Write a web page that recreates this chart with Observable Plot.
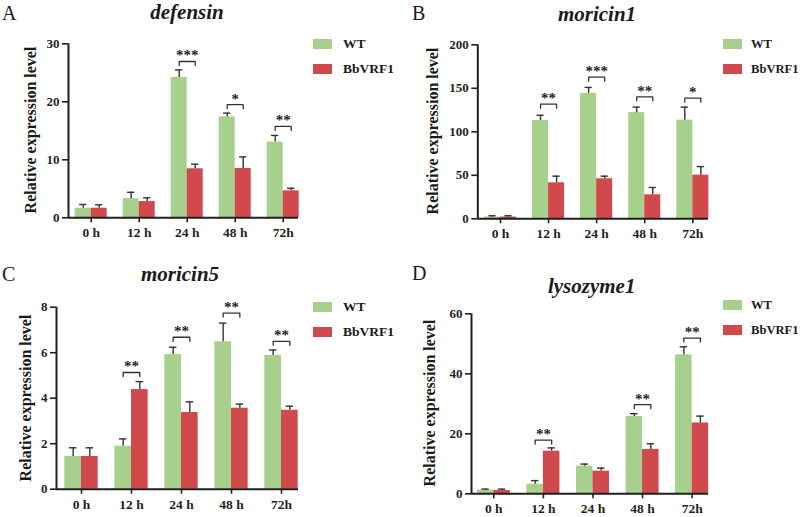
<!DOCTYPE html>
<html>
<head>
<meta charset="utf-8">
<script src="https://cdn.jsdelivr.net/npm/d3@7"></script>
<script src="https://cdn.jsdelivr.net/npm/@observablehq/plot@0.6"></script>
<style>
  html, body { margin: 0; padding: 0; background: #fff; }
  #root { position: relative; width: 800px; height: 517px; overflow: hidden; background: #fff; font-family: "Liberation Serif", "Times New Roman", serif; color: #1a1a1a; }
  .abs { position: absolute; white-space: nowrap; line-height: 1; }
  .panel { position: absolute; }
</style>
</head>
<body>
<div id="root"></div>
<script>
// ---------- data ----------
const times = ["0 h", "12 h", "24 h", "48 h", "72h"];
const groups = ["WT", "BbVRF1"];
const groupColors = ["#a8d08d", "#d04a4d"];

const defensinWT = [1.65, 3.3, 24.2, 17.4, 13.05];
const defensinWTErr = [0.65, 1.1, 1.3, 0.65, 1.15];
const defensinKO = [1.65, 2.8, 8.45, 8.5, 4.65];
const defensinKOErr = [0.6, 0.65, 0.8, 2.0, 0.45];
const defensinSig = ["", "", "***", "*", "**"];
const defensinSigY = [null, null, 26.95, 19.5, 15.75];

const moricin1WT = [2, 113, 144, 122, 113.4];
const moricin1WTErr = [1.5, 6, 7, 6.4, 15];
const moricin1KO = [2, 41.4, 46, 27.6, 50.2];
const moricin1KOErr = [1.5, 7.6, 3, 8.4, 9.8];
const moricin1Sig = ["", "**", "***", "**", "*"];
const moricin1SigY = [null, 131.8, 162.8, 140.2, 138.7];

const moricin5WT = [1.44, 1.89, 5.92, 6.48, 5.88];
const moricin5WTErr = [0.38, 0.32, 0.32, 0.82, 0.24];
const moricin5KO = [1.44, 4.38, 3.37, 3.56, 3.47];
const moricin5KOErr = [0.38, 0.35, 0.47, 0.18, 0.18];
const moricin5Sig = ["", "**", "**", "**", "**"];
const moricin5SigY = [null, 5.13, 6.68, 7.74, 6.5];

const lysozyme1WT = [1.22, 3.2, 9.2, 25.8, 46.3];
const lysozyme1WTErr = [0.34, 1.2, 0.7, 0.9, 2.7];
const lysozyme1KO = [1.1, 14.2, 7.56, 14.8, 23.6];
const lysozyme1KOErr = [0.46, 1.1, 1.0, 1.9, 2.3];
const lysozyme1Sig = ["", "**", "", "**", "**"];
const lysozyme1SigY = [null, 17.9, null, 29.7, 51.9];

const yTicksA = [0, 10, 20, 30];
const yTicksB = [0, 50, 100, 150, 200];
const yTicksC = [0, 2, 4, 6, 8];
const yTicksD = [0, 20, 40, 60];

const yLabel = "Relative expression level";

// ---------- layout ----------
const panels = [
  {letter: "A", title: "defensin", wt: defensinWT, wtErr: defensinWTErr, ko: defensinKO, koErr: defensinKOErr, sig: defensinSig, sigY: defensinSigY, yTicks: yTicksA,
   left: 0, top: 0, h: 260, mL: 68, mR: 102, mT: 43.3, mB: 42.7, xDom: [-0.473, 4.319],
   titleX: 187, titleBase: 20, letterX: 2, letterBase: 20, legX: 313, legY: 39, legTx: 343, legFs: 13.5, yLabX: 30.8},
  {letter: "B", title: "moricin1", wt: moricin1WT, wtErr: moricin1WTErr, ko: moricin1KO, koErr: moricin1KOErr, sig: moricin1Sig, sigY: moricin1SigY, yTicks: yTicksB,
   left: 400, top: 0, h: 260, mL: 77.3, mR: 92, mT: 44.3, mB: 41.7, xDom: [-0.472, 4.326],
   titleX: 597, titleBase: 21.5, letterX: 412, letterBase: 19.5, legX: 723, legY: 39, legTx: 751, legFs: 12.6, yLabX: 432.5},
  {letter: "C", title: "moricin5", wt: moricin5WT, wtErr: moricin5WTErr, ko: moricin5KO, koErr: moricin5KOErr, sig: moricin5Sig, sigY: moricin5SigY, yTicks: yTicksC,
   left: 0, top: 260, h: 257, mL: 56, mR: 102, mT: 46.7, mB: 28.3, xDom: [-0.5, 4.34],
   titleX: 180, titleBase: 281.7, letterX: 2, letterBase: 280.7, legX: 313, legY: 301.5, legTx: 343, legFs: 13.5, yLabX: 26},
  {letter: "D", title: "lysozyme1", wt: lysozyme1WT, wtErr: lysozyme1WTErr, ko: lysozyme1KO, koErr: lysozyme1KOErr, sig: lysozyme1Sig, sigY: lysozyme1SigY, yTicks: yTicksD,
   left: 400, top: 260, h: 257, mL: 71, mR: 92, mT: 53.3, mB: 23.7, xDom: [-0.45, 4.33],
   titleX: 591.7, titleBase: 293.3, letterX: 412, letterBase: 280, legX: 723, legY: 300, legTx: 751, legFs: 12.6, yLabX: 429.5}
];

const root = document.getElementById("root");
const ASC = 0.8375; // baseline position within a line-height:1 box (Liberation Serif)

function addText(txt, {x, base, fs, weight = "normal", style = "normal", anchor = "start"}) {
  const el = document.createElement("div");
  el.className = "abs";
  el.textContent = txt;
  el.style.fontSize = fs + "px";
  el.style.fontWeight = weight;
  el.style.fontStyle = style;
  el.style.top = (base - ASC * fs) + "px";
  el.style.left = x + "px";
  if (anchor === "middle") el.style.transform = "translateX(-50%)";
  root.appendChild(el);
  return el;
}

const hw = 1 / 3;      // bar width, in category units
const cap = 0.075;     // half width of error-bar caps, in category units

for (const p of panels) {
  const yMax = p.yTicks[p.yTicks.length - 1];
  const rows = [];
  times.forEach((t, i) => {
    rows.push({i, t, group: groups[0], value: p.wt[i], err: p.wtErr[i], off: -1});
    rows.push({i, t, group: groups[1], value: p.ko[i], err: p.koErr[i], off: 1});
  });
  const frameH = p.h - p.mT - p.mB;
  const drop = yMax * 4 / frameH;
  const sig = times.map((t, i) => ({i, label: p.sig[i], y: p.sigY[i]})).filter(d => d.label);
  const bracketPts = [];
  sig.forEach(d => {
    const a = d.i - hw / 2, b = d.i + hw / 2;
    bracketPts.push({k: d.i, x: a, y: d.y - drop}, {k: d.i, x: a, y: d.y}, {k: d.i, x: b, y: d.y}, {k: d.i, x: b, y: d.y - drop});
  });
  const ink = "#1f1f1f";
  const chart = Plot.plot({
    width: 400,
    height: p.h,
    marginLeft: p.mL,
    marginRight: p.mR,
    marginTop: p.mT,
    marginBottom: p.mB,
    style: {fontFamily: "'Liberation Serif', 'Times New Roman', serif", fontWeight: "bold", color: ink, background: "transparent", overflow: "visible"},
    x: {domain: p.xDom, label: null},
    y: {domain: [0, yMax], label: null},
    color: {domain: groups, range: groupColors},
    marks: [
      Plot.rectY(rows, {
        x1: d => d.i + (d.off < 0 ? -hw : 0),
        x2: d => d.i + (d.off < 0 ? 0 : hw),
        y1: 0, y2: "value", fill: "group"
      }),
      Plot.ruleX(rows, {x: d => d.i + d.off * hw / 2, y1: "value", y2: d => d.value + d.err, stroke: "#333", strokeWidth: 1.4}),
      Plot.ruleY(rows, {y: d => d.value + d.err, x1: d => d.i + d.off * hw / 2 - cap, x2: d => d.i + d.off * hw / 2 + cap, stroke: "#333", strokeWidth: 1.4}),
      Plot.line(bracketPts, {x: "x", y: "y", z: "k", stroke: "#333", strokeWidth: 1.3}),
      Plot.text(sig, {x: "i", y: "y", text: "label", lineAnchor: "bottom", dy: -1, fontSize: 15, fontWeight: "bold", fill: ink}),
      Plot.ruleY([0], {stroke: ink, strokeWidth: 2}),
      Plot.ruleX([p.xDom[0]], {y1: 0, y2: yMax, stroke: ink, strokeWidth: 2}),
      Plot.axisY({ticks: p.yTicks, tickSize: 6, tickPadding: 3, fontSize: 13, strokeWidth: 1.6, label: null}),
      Plot.axisX({ticks: [0, 1, 2, 3, 4], tickFormat: i => times[i], tickSize: 5, tickPadding: 5, fontSize: 13.5, strokeWidth: 1.6, label: null})
    ]
  });
  const wrap = document.createElement("div");
  wrap.className = "panel";
  wrap.style.left = p.left + "px";
  wrap.style.top = p.top + "px";
  wrap.appendChild(chart);
  root.appendChild(wrap);

  // title and panel letter
  addText(p.title, {x: p.titleX, base: p.titleBase, fs: 21, weight: "bold", style: "italic", anchor: "middle"});
  addText(p.letter, {x: p.letterX, base: p.letterBase, fs: 20});

  // y label (rotated)
  const yl = document.createElement("div");
  yl.className = "abs";
  yl.textContent = yLabel;
  yl.style.fontSize = "16px";
  yl.style.fontWeight = "bold";
  yl.style.left = p.yLabX + "px";
  yl.style.top = (p.top + p.mT + frameH / 2) + "px";
  yl.style.transform = "translate(-50%, -50%) rotate(-90deg)";
  root.appendChild(yl);

  // legend
  groups.forEach((g, k) => {
    const sw = document.createElement("div");
    sw.style.position = "absolute";
    sw.style.left = p.legX + "px";
    sw.style.top = (p.legY + k * 25) + "px";
    sw.style.width = "19px";
    sw.style.height = "10px";
    sw.style.background = groupColors[k];
    root.appendChild(sw);
    addText(g, {x: p.legTx, base: p.legY + k * 25 + 9.5, fs: p.legFs, weight: "bold"});
  });
}
</script>
</body>
</html>
